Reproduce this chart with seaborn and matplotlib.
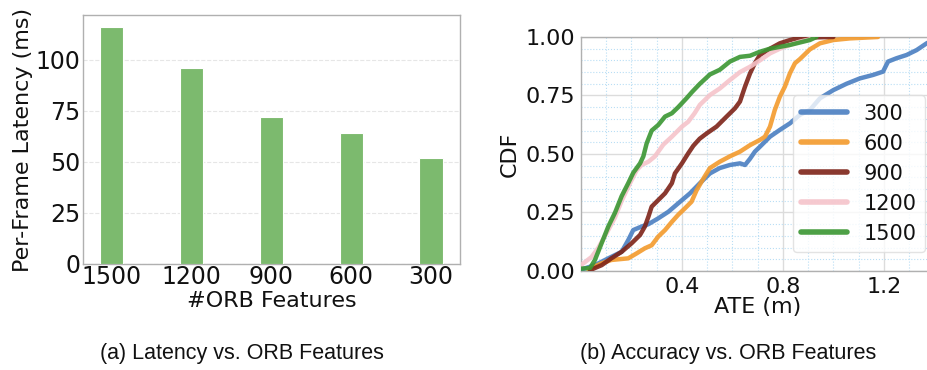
import matplotlib
matplotlib.use("Agg")
import matplotlib.pyplot as plt
from matplotlib import font_manager
from matplotlib.ticker import MultipleLocator, FixedLocator, FormatStrFormatter
import numpy as np
import pandas as pd
import seaborn as sns

# ---- data -------------------------------------------------------------
orb_features = ["1500", "1200", "900", "600", "300"]
latency_ms = [116, 96, 72, 64, 52]

# empirical CDF of ATE (m) per ORB feature budget: (ATE, CDF) points
ate_300 = [0.003, 0.055, 0.108, 0.161, 0.187, 0.207, 0.24, 0.267, 0.306, 0.346,
           0.385, 0.432, 0.471, 0.511, 0.55, 0.59, 0.63, 0.65, 0.67, 0.689,
           0.709, 0.749, 0.788, 0.828, 0.867, 0.907, 0.947, 1.0, 1.052, 1.105,
           1.158, 1.197, 1.217, 1.25, 1.29, 1.33, 1.37, 1.4]
cdf_300 = [0.007, 0.025, 0.054, 0.082, 0.132, 0.175, 0.19, 0.20, 0.225, 0.253,
           0.289, 0.332, 0.375, 0.417, 0.44, 0.453, 0.46, 0.453, 0.48, 0.51,
           0.531, 0.574, 0.603, 0.631, 0.667, 0.688, 0.738, 0.773, 0.80, 0.823,
           0.838, 0.852, 0.895, 0.909, 0.923, 0.944, 0.973, 0.99]

ate_600 = [0.029, 0.082, 0.12, 0.148, 0.187, 0.22, 0.253, 0.28, 0.306, 0.333,
           0.36, 0.385, 0.412, 0.438, 0.458, 0.485, 0.511, 0.55, 0.59, 0.63,
           0.67, 0.709, 0.729, 0.749, 0.768, 0.788, 0.808, 0.828, 0.848, 0.867,
           0.907, 0.947, 1.0, 1.065, 1.177]
cdf_600 = [0.007, 0.033, 0.047, 0.05, 0.054, 0.075, 0.097, 0.11, 0.147, 0.175,
           0.21, 0.24, 0.268, 0.296, 0.345, 0.395, 0.44, 0.467, 0.49, 0.51,
           0.538, 0.56, 0.574, 0.617, 0.688, 0.745, 0.788, 0.845, 0.888, 0.905,
           0.947, 0.973, 0.987, 0.994, 1.0]

ate_900 = [0.036, 0.082, 0.12, 0.161, 0.20, 0.234, 0.253, 0.267, 0.28, 0.306,
           0.333, 0.36, 0.372, 0.40, 0.425, 0.445, 0.47, 0.498, 0.537, 0.577,
           0.61, 0.63, 0.65, 0.67, 0.689, 0.709, 0.749, 0.788, 0.828, 0.867,
           1.0]
cdf_900 = [0.004, 0.025, 0.054, 0.082, 0.118, 0.154, 0.19, 0.232, 0.275, 0.303,
           0.332, 0.375, 0.417, 0.46, 0.503, 0.535, 0.565, 0.588, 0.617, 0.66,
           0.695, 0.724, 0.788, 0.845, 0.888, 0.923, 0.95, 0.973, 0.987, 0.997,
           1.0]

ate_1200 = [0.0, 0.042, 0.069, 0.108, 0.135, 0.161, 0.194, 0.22, 0.24, 0.267,
            0.293, 0.326, 0.36, 0.40, 0.425, 0.45, 0.471, 0.511, 0.55, 0.59,
            0.63, 0.67, 0.709, 0.749, 0.788, 0.828, 0.867, 0.907, 0.92]
cdf_1200 = [0.025, 0.06, 0.10, 0.175, 0.23, 0.30, 0.375, 0.43, 0.453, 0.467,
            0.49, 0.54, 0.574, 0.617, 0.638, 0.674, 0.71, 0.752, 0.78, 0.816,
            0.85, 0.873, 0.90, 0.93, 0.95, 0.966, 0.98, 0.99, 1.0]

ate_1500 = [0.0, 0.036, 0.055, 0.082, 0.108, 0.135, 0.161, 0.187, 0.207, 0.234,
            0.247, 0.26, 0.28, 0.306, 0.333, 0.36, 0.385, 0.418, 0.44, 0.471,
            0.511, 0.55, 0.59, 0.63, 0.67, 0.709, 0.749, 0.828, 0.907, 0.933]
cdf_1500 = [0.01, 0.013, 0.047, 0.12, 0.19, 0.25, 0.32, 0.375, 0.42, 0.46,
            0.49, 0.545, 0.60, 0.624, 0.66, 0.674, 0.70, 0.738, 0.765, 0.80,
            0.84, 0.86, 0.895, 0.915, 0.92, 0.937, 0.95, 0.966, 0.987, 1.0]

series_names = ["300", "600", "900", "1200", "1500"]
series_ate = [ate_300, ate_600, ate_900, ate_1200, ate_1500]
series_cdf = [cdf_300, cdf_600, cdf_900, cdf_1200, cdf_1500]
series_colors = ["#4a7fc1", "#f39a2c", "#7d2318", "#f5c3ca", "#3a9632"]

# ---- style ------------------------------------------------------------
sns.set_theme(style="white")
plt.rcParams["font.family"] = "sans-serif"
plt.rcParams["font.sans-serif"] = ["DejaVu Sans"]

names = {f.name for f in font_manager.fontManager.ttflist}
caption_family = "Liberation Sans Narrow" if "Liberation Sans Narrow" in names else "Liberation Sans"

fig = plt.figure(figsize=(9.27, 3.70), dpi=100)
ax1 = fig.add_axes([0.0895, 0.2865, 0.4065, 0.673])
ax2 = fig.add_axes([0.6268, 0.2676, 0.381, 0.6324])

spine_color = "#b0b0b0"
text_color = "#111111"

# ---- (a) latency bars ------------------------------------------------
bar_df = pd.DataFrame({"features": orb_features, "latency": latency_ms})
sns.barplot(data=bar_df, x="features", y="latency", order=orb_features,
            color="#7cba6e", saturation=1, width=0.29, ax=ax1,
            edgecolor="white", linewidth=0.8, zorder=3)
ax1.set_xlim(-0.36, 4.36)
ax1.set_ylim(0, 122)
ax1.yaxis.set_major_locator(FixedLocator([0, 25, 50, 75, 100]))
ax1.grid(axis="y", color="#e6e6e6", linestyle="--", linewidth=0.8, zorder=0)
ax1.set_axisbelow(True)
ax1.tick_params(axis="both", length=0, labelsize=17, pad=2, labelcolor=text_color)
ax1.tick_params(axis="x", pad=1)
ax1.set_xlabel("#ORB Features", fontsize=16, labelpad=1, color=text_color)
ax1.set_ylabel("Per-Frame Latency (ms)", fontsize=16, labelpad=2, color=text_color)
for sp in ax1.spines.values():
    sp.set_color(spine_color)
    sp.set_linewidth(1.0)

# ---- (b) ATE CDF -----------------------------------------------------
frames = []
for name, xs, ys in zip(series_names, series_ate, series_cdf):
    frames.append(pd.DataFrame({"ATE": xs, "CDF": ys, "features": name}))
cdf_df = pd.concat(frames, ignore_index=True)
sns.lineplot(data=cdf_df, x="ATE", y="CDF", hue="features",
             hue_order=series_names, palette=dict(zip(series_names, series_colors)),
             estimator=None, sort=False, units="features", linewidth=3.2,
             alpha=0.9, ax=ax2, zorder=3)
ax2.set_xlim(0, 1.4)
ax2.set_ylim(0, 1.0)
ax2.xaxis.set_major_locator(FixedLocator([0.4, 0.8, 1.2]))
ax2.xaxis.set_minor_locator(MultipleLocator(0.1))
ax2.yaxis.set_major_locator(MultipleLocator(0.25))
ax2.yaxis.set_minor_locator(MultipleLocator(0.05))
ax2.yaxis.set_major_formatter(FormatStrFormatter("%.2f"))
ax2.grid(which="major", color="#dcdcdc", linewidth=1.0, zorder=0)
ax2.grid(which="minor", color="#b9def5", linestyle=":", linewidth=0.8, zorder=0)
ax2.set_axisbelow(True)
ax2.tick_params(axis="both", which="both", length=0, labelsize=16, pad=4,
                labelcolor=text_color)
ax2.set_xlabel("ATE (m)", fontsize=16, labelpad=0, color=text_color)
ax2.set_ylabel("CDF", fontsize=16, labelpad=4, color=text_color)
for sp in ax2.spines.values():
    sp.set_color(spine_color)
    sp.set_linewidth(1.0)

leg = ax2.legend(loc="lower right", bbox_to_anchor=(925 / 927, (370 - 252) / 370),
                 bbox_transform=fig.transFigure, fontsize=15, handlelength=2.2,
                 handletextpad=0.8, labelspacing=0.48, borderpad=0.4,
                 borderaxespad=0.0, frameon=True, framealpha=0.8,
                 edgecolor="#dddddd", title=None)
for line in leg.get_lines():
    line.set_linewidth(4)
for t in leg.get_texts():
    t.set_color(text_color)

# ---- captions ---------------------------------------------------------
fig.text(242 / 927, 1 - 354 / 370, "(a) Latency vs. ORB Features",
         ha="center", va="center", fontsize=15.5, family=caption_family, color=text_color)
fig.text(728 / 927, 1 - 354 / 370, "(b) Accuracy vs. ORB Features",
         ha="center", va="center", fontsize=15.5, family=caption_family, color=text_color)

fig.savefig("out.png", dpi=100)
